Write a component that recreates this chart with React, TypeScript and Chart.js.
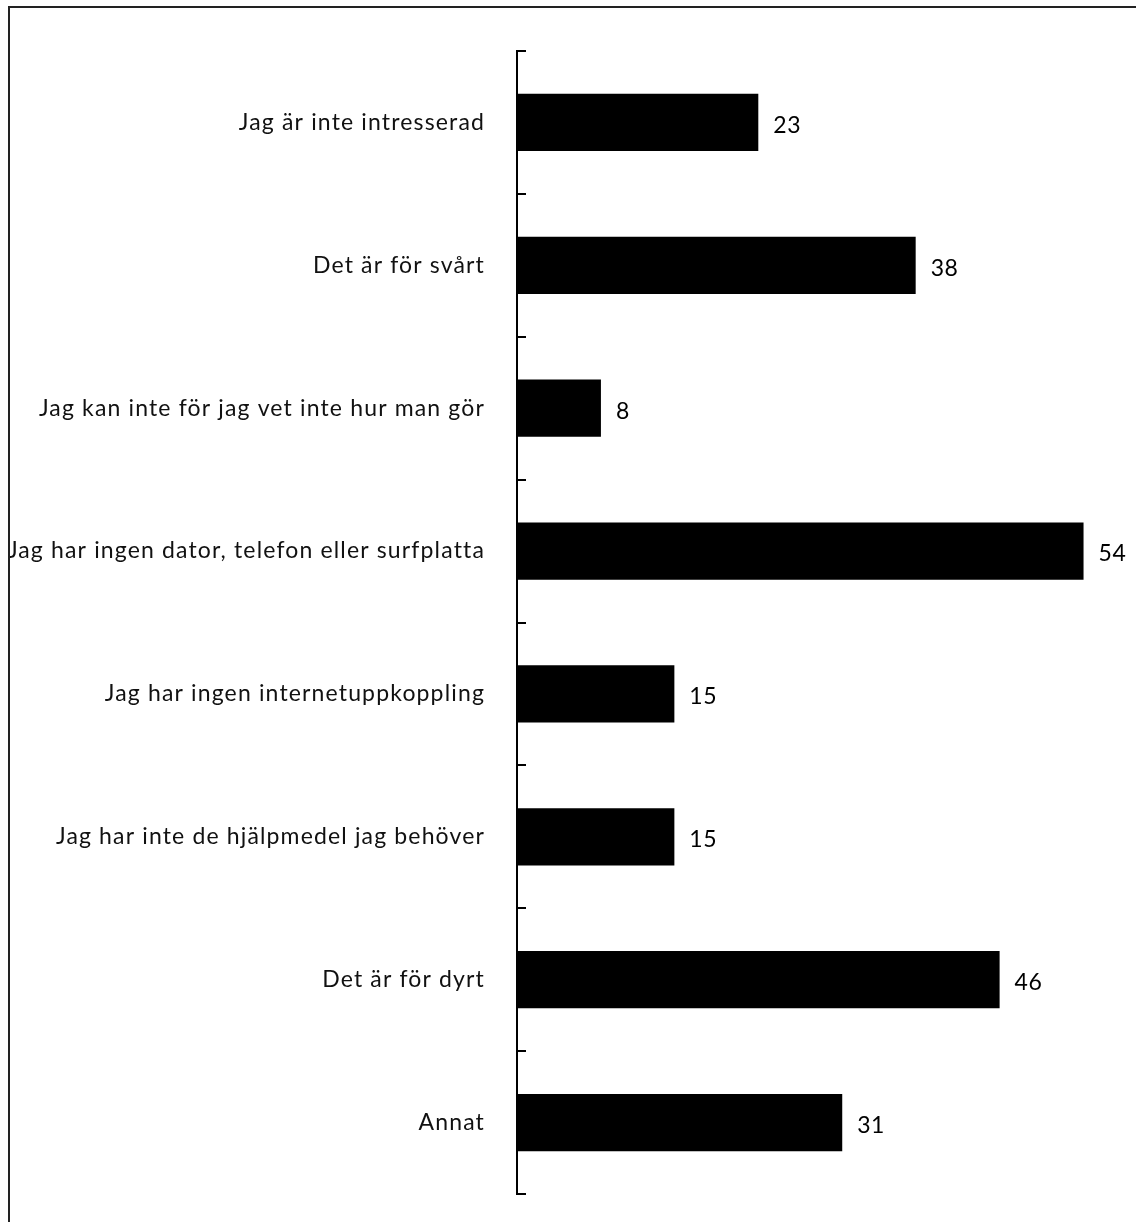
import React, { useEffect, useRef } from "react";
import { Chart, registerables } from "chart.js";

Chart.register(...registerables);

const categories: string[] = [
  "Jag är inte intresserad",
  "Det är för svårt",
  "Jag kan inte för jag vet inte hur man gör",
  "Jag har ingen dator, telefon eller surfplatta",
  "Jag har ingen internetuppkoppling",
  "Jag har inte de hjälpmedel jag behöver",
  "Det är för dyrt",
  "Annat",
];
const values: number[] = [23, 38, 8, 54, 15, 15, 46, 31];

const FONT = "Lato";
const FONT_SIZE = 23;

const extrasPlugin = {
  id: "extras",
  beforeDraw(chart: any) {
    (chart.ctx as any).letterSpacing = "1.15px";
  },
  afterDatasetsDraw(chart: any) {
    const ctx = chart.ctx;
    const y = chart.scales.y;
    const left = chart.chartArea.left;
    ctx.save();
    ctx.strokeStyle = "#000";
    ctx.lineWidth = 2;
    for (let i = 0; i <= categories.length; i++) {
      const py = Math.round(y.getPixelForValue(i - 0.5));
      ctx.beginPath();
      ctx.moveTo(left - 1, py);
      ctx.lineTo(left + 9, py);
      ctx.stroke();
    }
    ctx.fillStyle = "#000";
    ctx.font = `${FONT_SIZE}px ${FONT}`;
    (ctx as any).letterSpacing = "0.5px";
    ctx.textAlign = "left";
    ctx.textBaseline = "middle";
    const meta = chart.getDatasetMeta(0);
    meta.data.forEach((bar: any, i: number) => {
      ctx.fillText(String(values[i]), bar.x + 15, bar.y + 3);
    });
    ctx.restore();
  },
};

export default function App() {
  const ref = useRef<HTMLCanvasElement>(null);
  useEffect(() => {
    if (!ref.current) return;
    const chart = new Chart(ref.current, {
      type: "bar",
      data: {
        labels: categories,
        datasets: [
          {
            data: values,
            backgroundColor: "#000",
            borderWidth: 0,
            categoryPercentage: 1,
            barPercentage: 0.4,
          },
        ],
      },
      options: {
        indexAxis: "y",
        responsive: false,
        animation: false,
        devicePixelRatio: 1,
        layout: { padding: { top: 51, bottom: 28, left: 0, right: 0 } },
        plugins: { legend: { display: false }, tooltip: { enabled: false } },
        scales: {
          x: {
            display: false,
            min: 0,
            max: 59,
            ticks: { display: false },
            grid: { display: false, drawTicks: false },
            afterFit: (s: any) => {
              s.height = 0;
            },
          },
          y: {
            offset: true,
            grid: { display: false, drawTicks: false },
            border: { display: true, color: "#000", width: 2 },
            ticks: {
              color: "#111",
              padding: 32,
              font: { family: FONT, size: FONT_SIZE },
              autoSkip: false,
            },
            afterFit: (s: any) => {
              s.width = 517;
              s.paddingTop = 0;
              s.paddingBottom = 0;
            },
          },
        },
      },
      plugins: [extrasPlugin],
    });
    return () => chart.destroy();
  }, []);
  return (
    <div style={{ position: "absolute", left: 0, top: 0, width: 1136, height: 1222, background: "#fff" }}>
      <canvas ref={ref} width={1136} height={1222} style={{ position: "absolute", left: 0, top: 0 }} />
      <div
        style={{
          position: "absolute",
          left: 8,
          top: 6,
          width: 1128,
          height: 1216,
          borderTop: "2px solid #222",
          borderLeft: "2px solid #222",
          pointerEvents: "none",
        }}
      />
    </div>
  );
}
